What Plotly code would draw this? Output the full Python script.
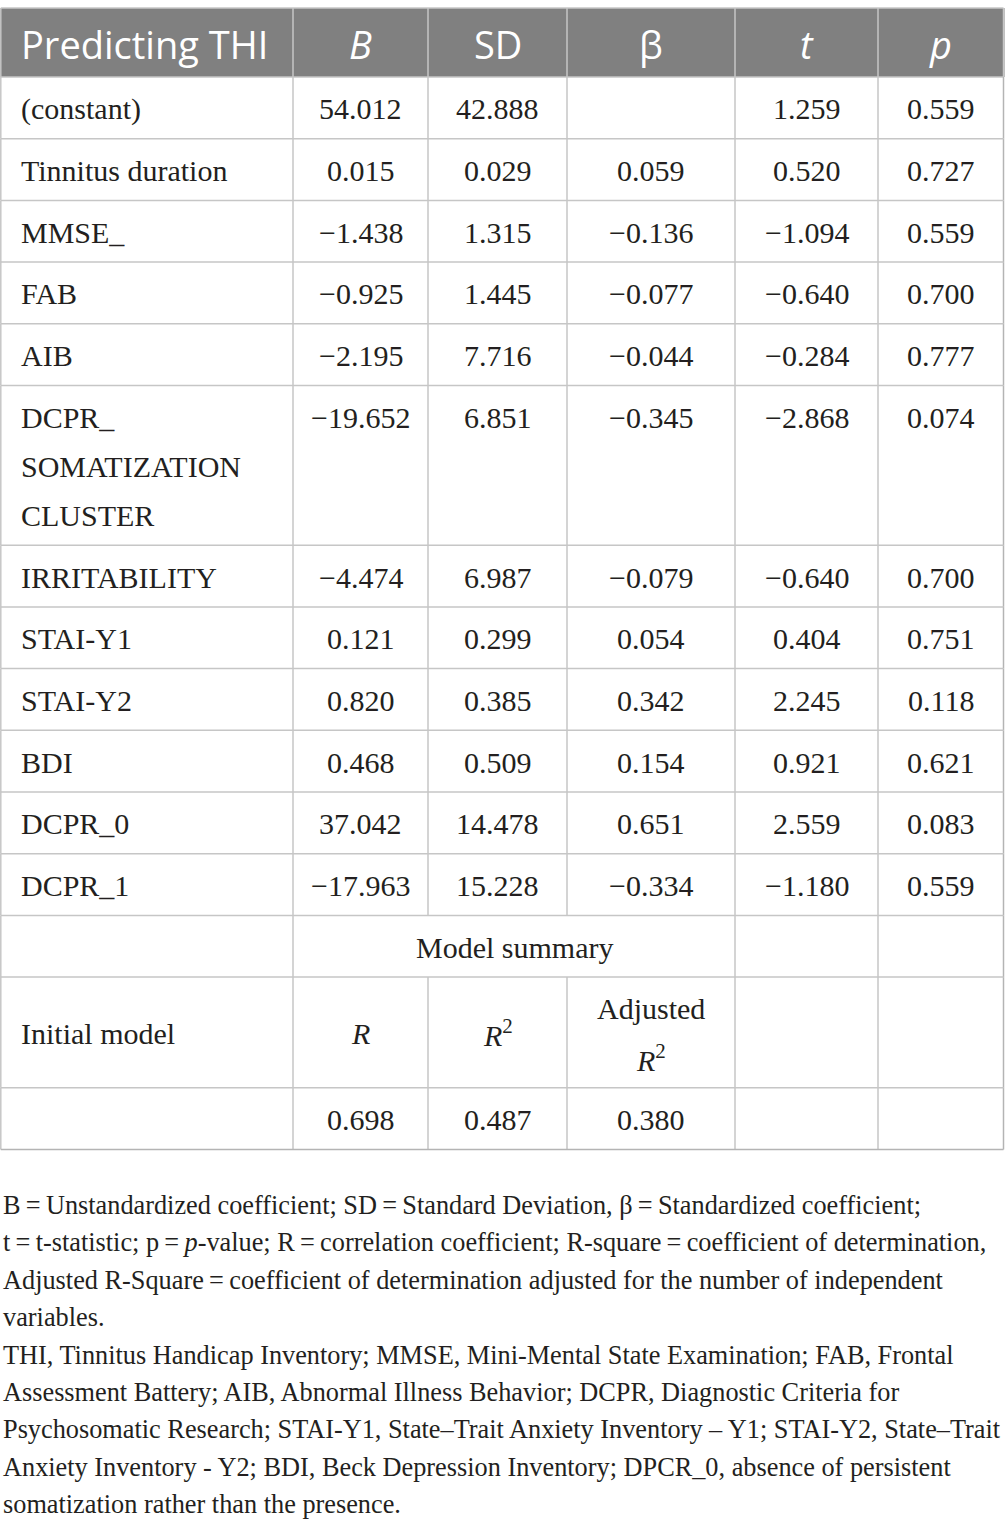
import plotly.graph_objects as go

# table content
header = ["Predicting THI", "<i>B</i>", "SD", "β", "<i>t</i>", "<i>p</i>"]

variables = ["(constant)", "Tinnitus duration", "MMSE_", "FAB", "AIB",
             "DCPR_<br>SOMATIZATION<br>CLUSTER", "IRRITABILITY", "STAI-Y1",
             "STAI-Y2", "BDI", "DCPR_0", "DCPR_1"]
B = [54.012, 0.015, -1.438, -0.925, -2.195, -19.652, -4.474, 0.121, 0.820, 0.468, 37.042, -17.963]
SD = [42.888, 0.029, 1.315, 1.445, 7.716, 6.851, 6.987, 0.299, 0.385, 0.509, 14.478, 15.228]
beta = [None, 0.059, -0.136, -0.077, -0.044, -0.345, -0.079, 0.054, 0.342, 0.154, 0.651, -0.334]
t_stat = [1.259, 0.520, -1.094, -0.640, -0.284, -2.868, -0.640, 0.404, 2.245, 0.921, 2.559, -1.180]
p_val = [0.559, 0.727, 0.559, 0.700, 0.777, 0.074, 0.700, 0.751, 0.118, 0.621, 0.083, 0.559]

summary_title = "Model summary"
model_name = "Initial model"
model_labels = ["<i>R</i>", "<i>R</i><sup>2</sup>", "Adjusted<br><i>R</i><sup>2</sup>"]
model_values = [0.698, 0.487, 0.380]

footnote = [
    "B\u2009=\u2009Unstandardized coefficient; SD\u2009=\u2009Standard Deviation, β\u2009=\u2009Standardized coefficient;",
    "t\u2009=\u2009t-statistic; p\u2009=\u2009<i>p</i>-value; R\u2009=\u2009correlation coefficient; R-square\u2009=\u2009coefficient of determination,",
    "Adjusted R-Square\u2009=\u2009coefficient of determination adjusted for the number of independent",
    "variables.",
    "THI, Tinnitus Handicap Inventory; MMSE, Mini-Mental State Examination; FAB, Frontal",
    "Assessment Battery; AIB, Abnormal Illness Behavior; DCPR, Diagnostic Criteria for",
    "Psychosomatic Research; STAI-Y1, State–Trait Anxiety Inventory – Y1; STAI-Y2, State–Trait",
    "Anxiety Inventory - Y2; BDI, Beck Depression Inventory; DPCR_0, absence of persistent",
    "somatization rather than the presence.",
]


def fmt(v):
    if v is None:
        return ""
    return f"{v:.3f}".replace("-", "\u2212")


# build body rows: list of (cells, valign); a cell is (text, span)
rows = []
for i, name in enumerate(variables):
    cells = [(name, 1)] + [(fmt(s[i]), 1) for s in (B, SD, beta, t_stat, p_val)]
    rows.append((cells, "top"))
rows.append(([("", 1), (summary_title, 3), ("", 1), ("", 1)], "middle"))
rows.append(([(model_name, 1)] + [(l, 1) for l in model_labels] + [("", 1), ("", 1)], "middle"))
rows.append(([("", 1)] + [(fmt(v), 1) for v in model_values] + [("", 1), ("", 1)], "middle"))

# geometry (page pixels)
W, H = 1005, 1532
col_edges = [0.8, 293, 428, 567, 735, 878, 1003.5]
table_top = 8
header_h = 69
base_h = 61.7
line_h = 49
pad_left = 18
grid = "#c6c6c6"
head_fill = "#808080"
serif = "Liberation Serif"
sans = "Open Sans"
body_size = 30
head_size = 38
note_size = 26.3
note_gap = 56
note_line = 37.4

annotations = []
shapes = []


def cell_x(c0, span, first):
    if first:
        return col_edges[0] + pad_left, "left"
    return (col_edges[c0] + col_edges[c0 + span]) / 2, "center"


def hline(y, color=grid):
    shapes.append(dict(type="line", xref="x", yref="y", x0=col_edges[0], x1=col_edges[-1], y0=y, y1=y,
                       line=dict(color=color, width=1.5)))


def vline(x, y0, y1, color=grid):
    shapes.append(dict(type="line", xref="x", yref="y", x0=x, x1=x, y0=y0, y1=y1,
                       line=dict(color=color, width=1.5)))


# header
shapes.append(dict(type="rect", xref="x", yref="y", x0=col_edges[0] - 1, x1=col_edges[-1] + 1,
                   y0=table_top, y1=table_top + header_h, fillcolor=head_fill, line_width=0, layer="below"))
hline(table_top)
for j, txt in enumerate(header):
    x, anchor = cell_x(j, 1, j == 0)
    annotations.append(dict(x=x, y=table_top + header_h / 2 + 1, text=txt, xanchor=anchor, yanchor="middle",
                            showarrow=False, font=dict(family=sans, size=head_size, color="white")))
for e in col_edges:
    vline(e, table_top, table_top + header_h)

# body
y = table_top + header_h
hline(y)
for cells, valign in rows:
    n = max(len(txt.split("<br>")) for txt, _ in cells)
    h = base_h + (n - 1) * line_h
    c = 0
    edges_used = {0}
    for txt, span in cells:
        lines = txt.split("<br>") if txt else []
        x, anchor = cell_x(c, span, c == 0)
        k = len(lines)
        for li, line in enumerate(lines):
            if valign == "top":
                ty = y + base_h / 2 + li * line_h
            else:
                ty = y + h / 2 + (li - (k - 1) / 2) * line_h
            annotations.append(dict(x=x, y=ty + 1, text=line, xanchor=anchor, yanchor="middle", showarrow=False,
                                    font=dict(family=serif, size=body_size, color="#231f20")))
        c += span
        edges_used.add(c)
    for ci in sorted(edges_used):
        vline(col_edges[ci], y, y + h, "#b4b4b4" if ci == len(col_edges) - 1 else grid)
    y += h
hline(y, "#b4b4b4")
# inner row separators
yy = table_top + header_h
for cells, _ in rows[:-1]:
    n = max(len(txt.split("<br>")) for txt, _ in cells)
    yy += base_h + (n - 1) * line_h
    hline(yy)

# footnote
ny = y + note_gap
for i, line in enumerate(footnote):
    annotations.append(dict(x=0, xref="paper", xshift=1, y=ny + i * note_line, yref="y", text=line,
                            xanchor="left", yanchor="middle", showarrow=False,
                            font=dict(family=serif, size=note_size, color="#231f20")))

fig = go.Figure()
fig.add_trace(go.Scatter(x=[0, W], y=[0, H], mode="markers", marker=dict(opacity=0),
                         hoverinfo="skip", showlegend=False))
fig.update_layout(
    width=W, height=H,
    margin=dict(l=0, r=0, t=0, b=0),
    paper_bgcolor="white", plot_bgcolor="white",
    xaxis=dict(range=[0, W], visible=False, fixedrange=True),
    yaxis=dict(range=[H, 0], visible=False, fixedrange=True),
    shapes=shapes, annotations=annotations,
    showlegend=False,
)
fig.write_html("out.html", config={"displayModeBar": False},
               post_script="document.body.style.margin = '0px';")
